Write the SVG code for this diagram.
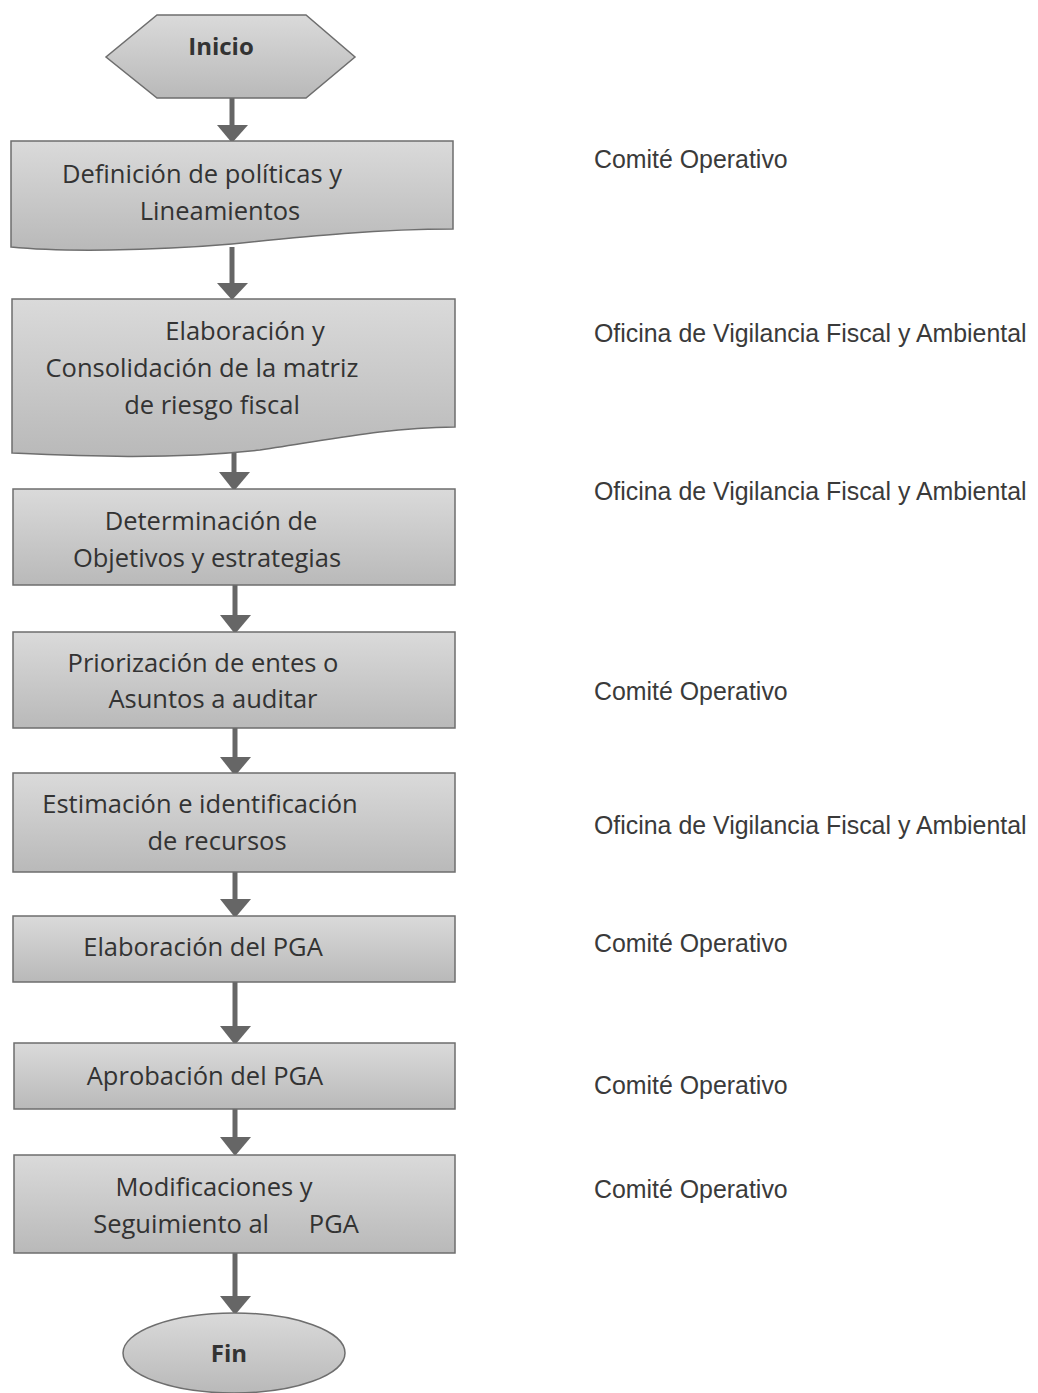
<svg xmlns="http://www.w3.org/2000/svg" width="1038" height="1393" viewBox="0 0 1038 1393">
<defs>
<linearGradient id="g" x1="0" y1="0" x2="0" y2="1">
<stop offset="0" stop-color="#dadada"/>
<stop offset="1" stop-color="#b9b9b9"/>
</linearGradient>
<style>
.n{fill:url(#g);stroke:#6e6e6e;stroke-width:1.5}
.t{font-family:"Open Sans","Liberation Sans",sans-serif;font-size:25.5px;fill:#333;text-anchor:middle}
.b{font-weight:bold;font-size:24px}
.r{font-family:"Liberation Sans","Roboto",sans-serif;font-size:24.9px;fill:#3a3a3a}
.c{stroke:#666;stroke-width:5;fill:none}
.h{fill:#666}
</style>
</defs>
<rect width="1038" height="1393" fill="#ffffff"/>
<g id="connectors">
<line class="c" x1="232" y1="98" x2="232" y2="125"/><path class="h" d="M217,125 L248,125 L232,143 Z"/>
<line class="c" x1="232" y1="247" x2="232" y2="283"/><path class="h" d="M217,283 L248,283 L232,300 Z"/>
<line class="c" x1="234" y1="453" x2="234" y2="472"/><path class="h" d="M219,472 L250,472 L234,491 Z"/>
<line class="c" x1="235" y1="585" x2="235" y2="615"/><path class="h" d="M220,615 L251,615 L235,634 Z"/>
<line class="c" x1="235" y1="728" x2="235" y2="757"/><path class="h" d="M220,757 L251,757 L235,776 Z"/>
<line class="c" x1="235" y1="872" x2="235" y2="899"/><path class="h" d="M220,899 L251,899 L235,918 Z"/>
<line class="c" x1="235" y1="982" x2="235" y2="1026"/><path class="h" d="M220,1026 L251,1026 L235,1045 Z"/>
<line class="c" x1="235" y1="1109" x2="235" y2="1137"/><path class="h" d="M220,1137 L251,1137 L235,1156 Z"/>
<line class="c" x1="235" y1="1253" x2="235" y2="1296"/><path class="h" d="M220,1296 L251,1296 L235,1315 Z"/>
</g>
<g id="inicio">
<path class="n" d="M157,15 L306,15 L355,57 L306,98 L157,98 L106,57 Z"/>
<text class="t b" x="221" y="55">Inicio</text>
</g>
<g id="n1">
<path class="n" d="M11,141 H453 V229 C380,229 310,236 232,244 C150,251 60,252 11,247 Z"/>
<text class="t" x="202" y="183">Definición de políticas y</text>
<text class="t" x="220" y="220">Lineamientos</text>
</g>
<g id="n2">
<path class="n" d="M12,299 H455 V427 C380,428 330,440 260,450 C170,460 80,456 12,453 Z"/>
<text class="t" x="245" y="340">Elaboración y</text>
<text class="t" x="202" y="377">Consolidación de la matriz</text>
<text class="t" x="212" y="414">de riesgo fiscal</text>
</g>
<g id="n3">
<rect class="n" x="13" y="489" width="442" height="96"/>
<text class="t" x="211" y="530">Determinación de</text>
<text class="t" x="207" y="567">Objetivos y estrategias</text>
</g>
<g id="n4">
<rect class="n" x="13" y="632" width="442" height="96"/>
<text class="t" x="203" y="672">Priorización de entes o</text>
<text class="t" x="213" y="708">Asuntos a auditar</text>
</g>
<g id="n5">
<rect class="n" x="13" y="773" width="442" height="99"/>
<text class="t" x="200" y="813">Estimación e identificación</text>
<text class="t" x="217" y="850">de recursos</text>
</g>
<g id="n6">
<rect class="n" x="13" y="916" width="442" height="66"/>
<text class="t" x="203" y="956">Elaboración del PGA</text>
</g>
<g id="n7">
<rect class="n" x="14" y="1043" width="441" height="66"/>
<text class="t" x="205" y="1085">Aprobación del PGA</text>
</g>
<g id="n8">
<rect class="n" x="14" y="1155" width="441" height="98"/>
<text class="t" x="214" y="1196">Modificaciones y</text>
<text class="t" x="226" y="1233" xml:space="preserve">Seguimiento al      PGA</text>
</g>
<g id="fin">
<ellipse class="n" cx="234" cy="1353" rx="111" ry="40"/>
<text class="t b" x="229" y="1362">Fin</text>
</g>
<g id="labels">
<text class="r" x="594" y="168">Comité Operativo</text>
<text class="r" x="594" y="342">Oficina de Vigilancia Fiscal y Ambiental</text>
<text class="r" x="594" y="500">Oficina de Vigilancia Fiscal y Ambiental</text>
<text class="r" x="594" y="700">Comité Operativo</text>
<text class="r" x="594" y="834">Oficina de Vigilancia Fiscal y Ambiental</text>
<text class="r" x="594" y="952">Comité Operativo</text>
<text class="r" x="594" y="1094">Comité Operativo</text>
<text class="r" x="594" y="1198">Comité Operativo</text>
</g>
</svg>
